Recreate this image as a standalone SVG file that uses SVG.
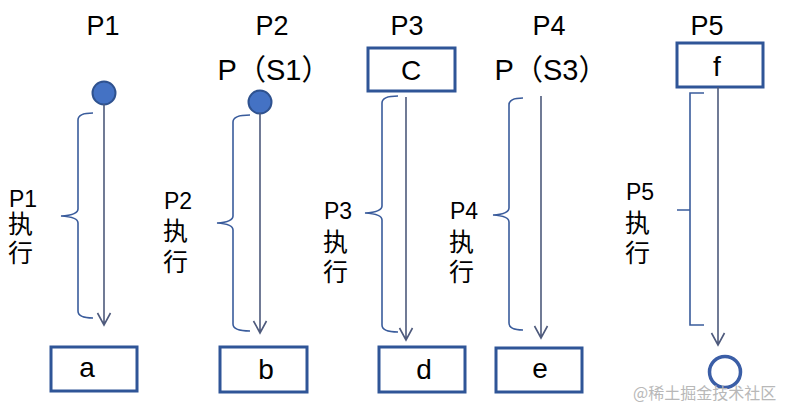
<svg xmlns="http://www.w3.org/2000/svg" width="786" height="408" viewBox="0 0 786 408">
<style>
.t{font-family:"Liberation Sans","Noto Sans CJK SC",sans-serif;fill:#000}
.title{font-size:27px;text-anchor:middle}
.ps{font-size:29px;text-anchor:middle}
.lab{font-size:23px}
.cj{font-size:25px}
.bx{font-size:28px;text-anchor:middle}
.box{fill:#fff;stroke:#2F5597;stroke-width:3}
.arr{fill:none;stroke:#4E5A7C;stroke-width:1.6}
.br{fill:none;stroke:#3A5C9C;stroke-width:1.6}
.dot{fill:#4472C4;stroke:#2F528F;stroke-width:2}
.wm{font-family:"Noto Sans CJK SC",sans-serif;font-size:16px;fill:#b8b8b8}
</style>
<rect width="786" height="408" fill="#fff"/>

<g id="P1">
<text class="t title" x="103" y="35">P1</text>
<circle class="dot" cx="104" cy="93" r="11.5"/>
<rect class="box" x="51" y="347" width="86" height="44"/>
<text class="t bx" x="87" y="377">a</text>
<text class="t lab" x="9" y="207">P1</text>
<text class="t cj" x="8" y="233">执</text>
<text class="t cj" x="8" y="262">行</text>
</g>

<g id="P2">
<text class="t title" x="272" y="35">P2</text>
<text class="t ps" x="274" y="80">P（S1）</text>
<circle class="dot" cx="260" cy="102" r="11.5"/>
<rect class="box" x="220" y="347" width="87" height="45"/>
<text class="t bx" x="266" y="379">b</text>
<text class="t lab" x="164" y="209">P2</text>
<text class="t cj" x="163" y="240">执</text>
<text class="t cj" x="163" y="271">行</text>
</g>

<g id="P3">
<text class="t title" x="407" y="35">P3</text>
<rect class="box" x="368" y="48" width="87" height="43"/>
<text class="t bx" x="411" y="80">C</text>
<rect class="box" x="379" y="347" width="86" height="45"/>
<text class="t bx" x="424" y="379">d</text>
<text class="t lab" x="324" y="219">P3</text>
<text class="t cj" x="323" y="251">执</text>
<text class="t cj" x="323" y="281">行</text>
</g>

<g id="P4">
<text class="t title" x="549" y="35">P4</text>
<text class="t ps" x="551" y="80">P（S3）</text>
<rect class="box" x="496" y="348" width="86" height="44"/>
<text class="t bx" x="540" y="378">e</text>
<text class="t lab" x="450" y="219">P4</text>
<text class="t cj" x="449" y="251">执</text>
<text class="t cj" x="449" y="281">行</text>
</g>

<g id="P5">
<text class="t title" x="707" y="35">P5</text>
<rect class="box" x="677" y="43" width="86" height="44"/>
<text class="t bx" x="717" y="76">f</text>
<circle cx="725" cy="372" r="15.5" fill="#fff" stroke="#3B5EA6" stroke-width="3.5"/>
<text class="t lab" x="626" y="200">P5</text>
<text class="t cj" x="625" y="232">执</text>
<text class="t cj" x="625" y="262">行</text>
</g>

<g id="connectors">
<path class="arr" d="M104,104 V325 M97.5,313 L104,325 L110.5,313"/>
<path class="arr" d="M260,113 V333 M253.5,321 L260,333 L266.5,321"/>
<path class="arr" d="M406,97 V340 M399.5,328 L406,340 L412.5,328"/>
<path class="arr" d="M541,96 V338 M534.5,326 L541,338 L547.5,326"/>
<path class="arr" d="M718,87 V345 M711.5,333 L718,345 L724.5,333"/>

<path class="br" d="M93,113 Q78,113 78,120 V209 Q78,215 61,216 Q78,217 78,223 V311 Q78,318 93,318"/>
<path class="br" d="M250,115 Q233,115 233,122 V216 Q233,222 217,223 Q233,224 233,230 V324 Q233,331 250,331"/>
<path class="br" d="M398,96 Q382,96 382,103 V206 Q382,212 365,213 Q382,214 382,220 V325 Q382,332 398,332"/>
<path class="br" d="M523,98 Q509,98 509,105 V208 Q509,214 493,215 Q509,216 509,222 V323 Q509,330 523,330"/>
<path class="br" d="M704,93 H690 V325 H704 M677,210 H690"/>
</g>

<text class="wm" x="633" y="399">@稀土掘金技术社区</text>
</svg>
